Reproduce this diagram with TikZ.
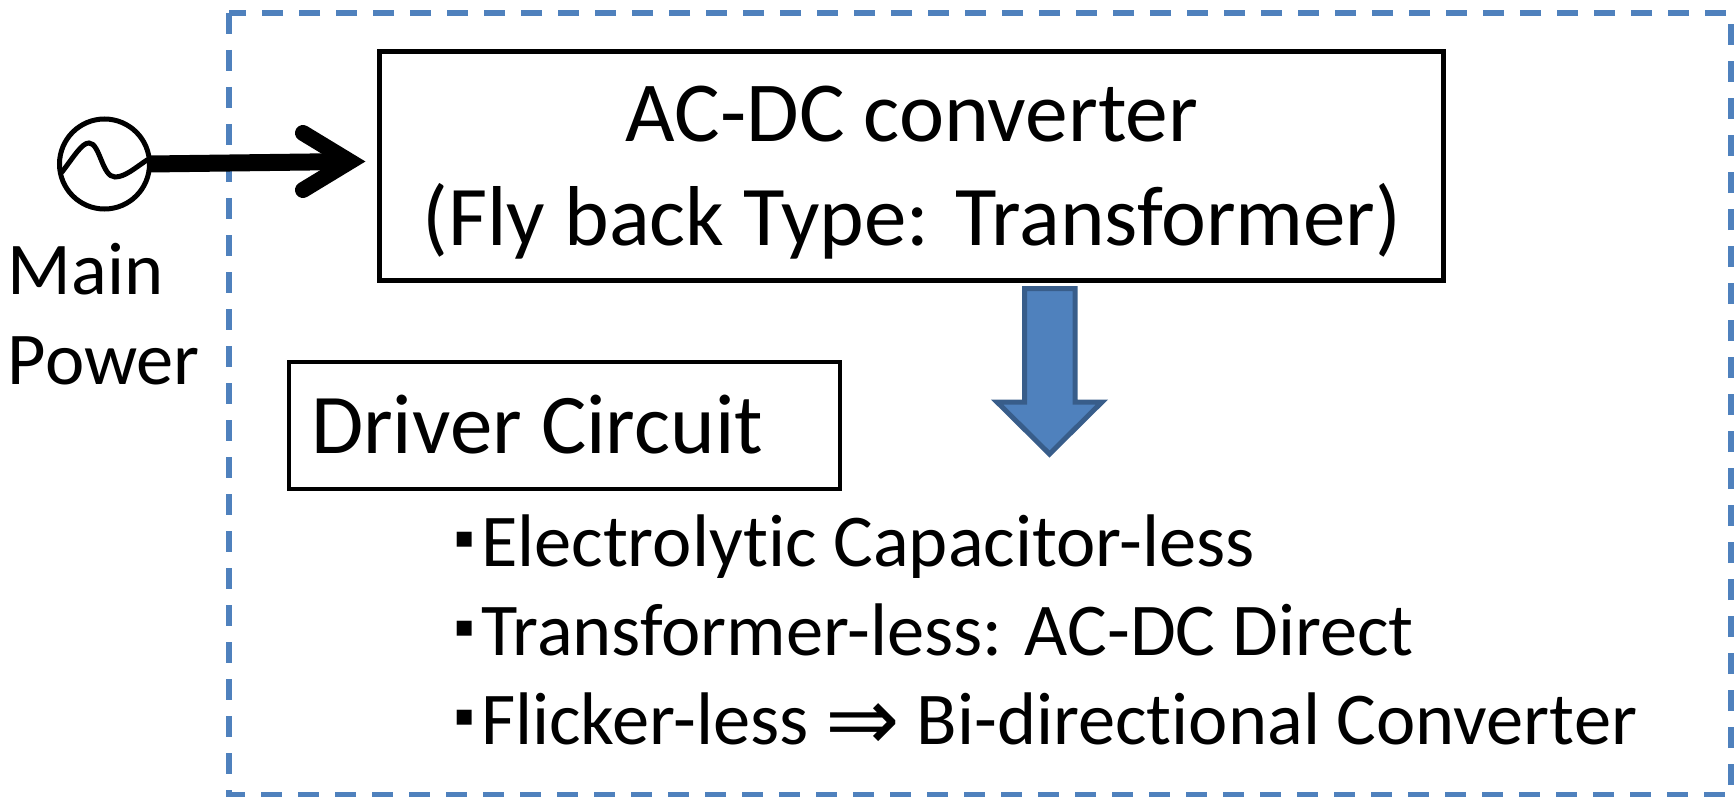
\documentclass[tikz,border=0pt]{standalone}
\usepackage{fontspec}
\setmainfont[Ligatures=NoCommon]{Carlito}
\newfontfamily\dv{DejaVu Sans}
\definecolor{blfill}{HTML}{4F81BD}
\definecolor{bledge}{HTML}{385D8A}
\tikzset{
  boxnode/.style={draw=black,line width=5pt,inner sep=0pt,outer sep=0pt},
  label75/.style={anchor=base west,inner sep=0pt,outer sep=0pt,font=\fontsize{74.5}{90}\selectfont},
  title86/.style={anchor=base,inner sep=0pt,outer sep=0pt,font=\fontsize{85.5}{100}\selectfont},
}
\newcommand{\blt}{\makebox[27pt][l]{\raisebox{19pt}{\dv\fontsize{30}{30}\selectfont ▪}}}
\begin{document}
\begin{tikzpicture}[x=1pt,y=-1pt]
\useasboundingbox (0,0) rectangle (1734,797);
\draw[blfill,line width=5.5pt,dash pattern=on 21pt off 16pt] (229,13) rectangle (1731,795);
\node[boxnode,minimum width=1064pt,minimum height=229pt] (conv) at (911.5,166) {};
\node[boxnode,line width=4.5pt,minimum width=551pt,minimum height=127pt] (drv) at (564.5,425.5) {};
\node[title86] (t1) at (912,142) {AC-DC converter};
\node[title86,font=\fontsize{85}{100}\selectfont] (t2) at (912,245) {(Fly back Type: Transformer)};
\node[label75,font=\fontsize{85}{100}\selectfont] (t3) at (311,453) {Driver Circuit};
\node[label75] (m1) at (8,294) {Main};
\node[label75] (m2) at (8,384) {Power};
\node[label75] (b1) at (454,566) {\blt Electrolytic Capacitor-less};
\node[label75] (b2) at (454,655) {\blt Transformer-less: AC-DC Direct};
\node[label75] (b3) at (454,744) {\blt Flicker-less {\dv\fontsize{89}{89}\selectfont\raisebox{-6pt}{⇒}} Bi-directional Converter};
\node[circle,draw=black,line width=5pt,minimum size=90pt,inner sep=0pt,outer sep=0pt] (src) at (104.5,164) {};
\draw[line width=5pt,line cap=round] (62,172) .. controls (75,155) and (82,143) .. (89,143) .. controls (100,143) and (102,177) .. (115,177) .. controls (125,177) and (135,168) .. (147,160);
\coordinate (tip) at (350,161.5);
\draw[line width=17pt] (src.east) -- (tip);
\draw[line width=16pt,line cap=round,miter limit=10] (303,133) -- (tip) -- (303,190);
\draw[bledge,fill=blfill,line width=5pt,miter limit=10] (1024.5,288.5) -- (1075,288.5) -- (1075,402) -- (1102,402) -- (1049.5,454) -- (997,402) -- (1024.5,402) -- cycle;
\end{tikzpicture}
\end{document}
